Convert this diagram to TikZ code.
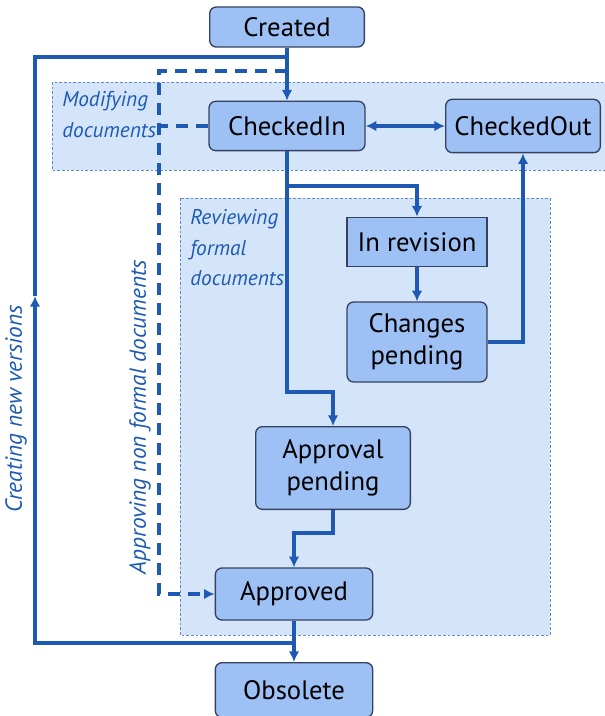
\documentclass[tikz,border=0pt]{standalone}
\usepackage{fontspec}
\setmainfont{PT Sans}
\usepackage{tikz}
\usetikzlibrary{arrows.meta, positioning}
\definecolor{flowblue}{RGB}{30,90,180}
\definecolor{boxfill}{RGB}{157,192,245}
\definecolor{boxline}{RGB}{55,65,95}
\definecolor{areafill}{RGB}{212,229,250}
\begin{document}
\begin{tikzpicture}[x=0.75pt,y=-0.75pt,
 state/.style={draw=boxline, fill=boxfill, rounded corners=5pt, line width=1pt, align=center, font=\fontsize{20}{24}\selectfont, inner sep=0pt},
 area/.style={draw=flowblue!70, fill=areafill, line width=0.5pt, dash pattern=on 2pt off 1.5pt},
 arealabel/.style={text=flowblue, font=\fontsize{16}{23}\selectfont\itshape, align=left, inner sep=0pt},
 sidelabel/.style={text=flowblue, font=\fontsize{17.5}{20}\selectfont\itshape, inner sep=0pt},
 flow/.style={draw=flowblue, line width=2.8pt},
 tip/.style={-{Latex[length=8pt,width=8pt]}},
 alt/.style={flow, dash pattern=on 9pt off 6pt}]
\useasboundingbox (0,0) rectangle (604,716);
%areas
\filldraw [area] (52,82) rectangle (606,170);
\filldraw [area] (180,198) rectangle (550,635);
\node [arealabel, anchor=north west] (modlbl) at (62,91) {Modifying\\documents};
\node [arealabel, anchor=north west] (revlbl) at (190,209) {Reviewing\\formal\\documents};
%states
\node [state, minimum width=116pt, minimum height=30pt] (created) at (287,27) {Created};
\node [state, minimum width=117pt, minimum height=37pt] (checkedin) at (287,126) {CheckedIn};
\node [state, minimum width=116pt, minimum height=40pt] (checkedout) at (523,126) {CheckedOut};
\node [state, rounded corners=0pt, minimum width=105pt, minimum height=37pt] (inrevision) at (417,242) {In revision};
\node [state, minimum width=105pt, minimum height=60pt] (changes) at (417,342) {Changes\\pending};
\node [state, minimum width=116pt, minimum height=62pt] (approval) at (333,468) {Approval\\pending};
\node [state, minimum width=118pt, minimum height=39pt] (approved) at (294,594) {Approved};
\node [state, minimum width=118pt, minimum height=41pt] (obsolete) at (294,690) {Obsolete};
%helper points
\coordinate (newbot) at (294,643);
\coordinate (newleft) at (35,643);
\coordinate (newarrow) at (35,296);
\coordinate (newtop) at (35,57);
\coordinate (newjoin) at (287,57);
\coordinate (altjoin) at (287,71);
\coordinate (alttop) at (159,71);
\coordinate (altmid) at (159,126);
\coordinate (altbot) at (159,594);
\coordinate (split) at (287,186);
\coordinate (bend) at (287,392);
\coordinate (merge) at (333,533);
%connectors
\draw [flow, tip] (created) -- (checkedin);
\draw [flow, tip] (newbot) -- (newleft) -- (newarrow);
\draw [flow] (newarrow) -- (newtop) -- (newjoin);
\draw [alt, tip] (altjoin) -- (alttop) -- (altbot) -- (approved.west);
\draw [alt] (checkedin.west) -- (altmid);
\draw [flow, {Latex[length=8pt,width=8pt]}-{Latex[length=8pt,width=8pt]}] (checkedin) -- (checkedout);
\draw [flow, tip] (checkedin.south) -- (split) -| (inrevision.north);
\draw [flow, tip] (split) -- (bend) -| (approval.north);
\draw [flow, tip] (inrevision) -- (changes);
\draw [flow, tip] (changes.east) -| (checkedout.south);
\draw [flow, tip] (approval.south) |- (merge) -| (approved.north);
\draw [flow, tip] (approved) -- (obsolete);
%side texts
\node [sidelabel, rotate=90] (newlbl) at (16,409) {Creating new versions};
\node [sidelabel, rotate=90] (altlbl) at (140,417) {Approving non formal documents};
\end{tikzpicture}
\end{document}
